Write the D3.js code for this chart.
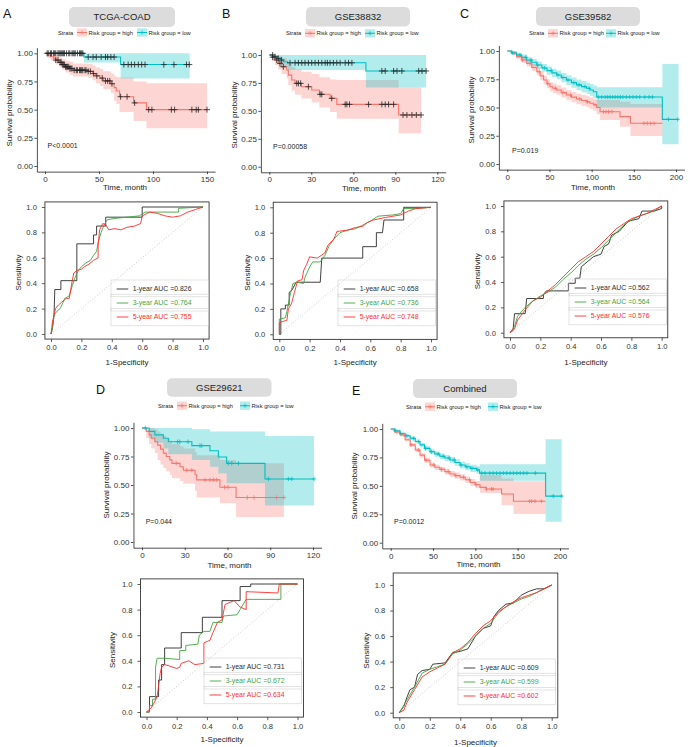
<!DOCTYPE html>
<html><head><meta charset="utf-8">
<script src="https://cdn.jsdelivr.net/npm/d3@7"></script>
<style>body{margin:0;background:#fff}svg{display:block}</style>
</head><body><svg id="c" width="690" height="747"></svg>
<script>
// ---------------- DATA ----------------
// KM rows: [time (months), survival, lower CI, upper CI]
const A_high = [[0,1,1,1],[2,0.985,0.96,1],[5,0.97,0.94,1],[8,0.955,0.92,0.99],[10,0.94,0.9,0.98],[13,0.92,0.88,0.965],[16,0.9,0.855,0.95],[19,0.88,0.83,0.935],[23,0.865,0.81,0.925],[26,0.85,0.795,0.91],[40,0.84,0.78,0.905],[44,0.82,0.76,0.89],[47,0.8,0.735,0.875],[51,0.78,0.71,0.86],[54,0.755,0.68,0.84],[61,0.73,0.65,0.82],[64,0.695,0.58,0.8],[66,0.665,0.55,0.79],[69,0.615,0.48,0.785],[82,0.56,0.4,0.75],[94,0.5,0.335,0.735],[150,0.5,0.335,0.735]];
const A_low = [[0,1,1,1],[36,0.967,0.918,1],[70,0.9,0.776,1],[134,0.9,0.776,1]];
const A_highCens = [10,12,14,15,16,17,18,19,20,21,22,23,24,25,27,29,30,32,33,34,35,37,38,40,42,45,48,53,56,58,60,62,70,76,83,96,99,117,120,136,140,142,150];
const A_lowCens = [2,3,5,6,8,9,10,12,13,14,15,16,17,18,20,22,23,25,26,27,28,30,32,33,34,35,40,44.5,47.5,52,56,58,61,64,73,77,80,83,86.4,89.5,92.6,110,119.4,131,133.6];

const B_high = [[0,1,1,1],[1.7,0.98,0.95,1],[4,0.955,0.91,1],[6.4,0.925,0.87,0.99],[8.8,0.895,0.83,0.97],[12.4,0.866,0.79,0.95],[13.6,0.82,0.73,0.92],[16,0.776,0.68,0.89],[18.4,0.746,0.645,0.87],[23,0.716,0.61,0.85],[30.3,0.687,0.575,0.83],[35.8,0.648,0.53,0.8],[43.4,0.612,0.49,0.78],[48.2,0.558,0.43,0.776],[92.4,0.463,0.3,0.71],[108.4,0.463,0.3,0.71]];
const B_low = [[0,1,1,1],[2.5,0.985,0.96,1],[6,0.97,0.93,1],[8,0.955,0.91,1],[10,0.94,0.89,1],[13,0.93,0.866,1],[69,0.857,0.71,1],[112,0.857,0.71,1]];
const B_highCens = [2.4,5.3,7.6,10,19.6,20.8,22.4,27.9,36.3,37.5,44.6,54.2,55.4,57.3,70.9,80.4,82.8,85.2,88.8,95.5,98.3,101.9,105,108.4];
const B_lowCens = [2.4,4,6.4,8.8,14.8,18.4,20.8,23.2,25.5,27.9,30.3,32.7,35.1,37.5,39.9,41.5,43.4,45.8,48.2,50.6,54.2,56.6,59,80.4,82.8,88.8,91.2,94.7,106.7,109.1,112];

const C_high = [[0,1,1,1],[5,0.98,0.965,0.995],[11,0.95,0.93,0.97],[17,0.92,0.895,0.945],[23,0.89,0.862,0.918],[29,0.855,0.824,0.886],[35,0.817,0.783,0.851],[39,0.78,0.744,0.816],[43,0.743,0.705,0.781],[47,0.71,0.67,0.75],[50.6,0.684,0.643,0.725],[54,0.67,0.628,0.712],[58.5,0.655,0.612,0.698],[64,0.632,0.588,0.676],[70,0.61,0.565,0.655],[76,0.592,0.546,0.638],[82,0.575,0.528,0.622],[88,0.562,0.514,0.61],[94,0.55,0.5,0.6],[98,0.537,0.486,0.588],[102,0.525,0.472,0.578],[106,0.5,0.44,0.567],[110,0.463,0.39,0.567],[133.6,0.419,0.33,0.55],[146,0.36,0.248,0.53],[184,0.36,0.248,0.53]];
const C_low = [[0,1,1,1],[5,0.985,0.97,1],[11,0.965,0.945,0.985],[17,0.945,0.92,0.97],[23,0.92,0.893,0.948],[29,0.9,0.87,0.93],[35,0.876,0.844,0.908],[41,0.85,0.816,0.885],[47,0.826,0.79,0.862],[53,0.806,0.768,0.844],[58.5,0.788,0.749,0.828],[64,0.765,0.724,0.806],[70,0.743,0.7,0.786],[76,0.72,0.675,0.765],[82,0.7,0.653,0.747],[88,0.685,0.636,0.734],[94,0.67,0.62,0.72],[98,0.655,0.603,0.707],[102,0.64,0.585,0.695],[106,0.593,0.5,0.68],[183.8,0.395,0.174,0.885],[203,0.395,0.174,0.885]];
const C_highCens = [8,18,27,38,48,57,66,75,86,95,104,114,117,120,124,162,166,170,174];
const C_lowCens = [6,15,22,28,36,44,52,60,66,72,79,85,92,97,108,112,116,119,122,125,128,131,134,137,141,145,149,153,157,163,168,172,191,202];

const D_high = [[0,1,1,1],[3,0.97,0.91,1],[5,0.94,0.86,1],[6.5,0.91,0.82,1],[9,0.88,0.78,0.99],[11,0.85,0.72,0.97],[13,0.815,0.68,0.95],[15,0.78,0.65,0.93],[17,0.75,0.62,0.91],[19.5,0.72,0.59,0.89],[21,0.69,0.56,0.86],[26.7,0.66,0.535,0.84],[29,0.63,0.51,0.82],[37.2,0.59,0.45,0.79],[38.4,0.545,0.39,0.76],[54.7,0.48,0.34,0.72],[66,0.39,0.22,0.69],[99.6,0.39,0.22,0.69]];
const D_low = [[0,1,1,1],[5,0.97,0.91,1],[9,0.94,0.87,1],[15,0.91,0.82,1],[18.5,0.88,0.77,1],[35,0.845,0.72,0.99],[47.7,0.8,0.66,0.97],[53.6,0.745,0.6,0.97],[59.4,0.69,0.515,0.97],[86.3,0.553,0.32,0.93],[120.7,0.553,0.32,0.93]];
const D_highCens = [24,31.4,34.9,44.2,47.7,50.1,52.4,58,60.4,73.9,78.6,94.5,99.6];
const D_lowCens = [2.3,25,26.5,32.3,40.7,41.9,60.6,63,67.7,88.7,102.7,105.1,120.7];

const E_high = [[0,1,1,1],[5,0.975,0.965,0.985],[11,0.947,0.934,0.96],[17,0.905,0.89,0.92],[23,0.86,0.843,0.877],[29,0.815,0.796,0.834],[34.6,0.77,0.75,0.79],[40,0.725,0.704,0.746],[46.5,0.683,0.661,0.705],[52,0.663,0.64,0.686],[58,0.645,0.621,0.669],[64,0.625,0.6,0.65],[70,0.604,0.578,0.63],[76,0.59,0.563,0.617],[82,0.575,0.547,0.603],[88,0.553,0.524,0.582],[94,0.53,0.5,0.56],[100,0.51,0.478,0.542],[105.5,0.487,0.44,0.595],[113,0.472,0.434,0.595],[131,0.428,0.33,0.565],[145,0.365,0.252,0.54],[183,0.365,0.252,0.54]];
const E_low = [[0,1,1,1],[5,0.985,0.975,0.995],[11,0.96,0.948,0.972],[17,0.94,0.926,0.954],[23,0.918,0.902,0.934],[29,0.89,0.872,0.908],[34.6,0.86,0.84,0.88],[40,0.83,0.808,0.852],[46.5,0.8,0.777,0.823],[52,0.78,0.756,0.804],[58,0.76,0.735,0.785],[64,0.745,0.718,0.772],[70,0.727,0.699,0.755],[76,0.705,0.676,0.734],[82,0.683,0.653,0.713],[88,0.668,0.637,0.699],[94,0.654,0.622,0.686],[101.6,0.64,0.607,0.673],[105,0.612,0.545,0.69],[183,0.41,0.185,0.91],[202,0.41,0.185,0.91]];
const E_highCens = [7,16,24,33,42,51,60,68,77,86,93,101,113,119,121,164,166.5,170.5,178];
const E_lowCens = [5,12,19,27,33,41,48,56,62,69,75,83,90,96,103,107.5,111.4,117,121,125,129,133,137,141,145,149,153,157,161,171,192,202];

// ROC curves: [1-specificity, sensitivity]
const A_roc1 = [[0,0],[0.01,0.05],[0.02,0.15],[0.025,0.35],[0.065,0.35],[0.065,0.42],[0.17,0.42],[0.17,0.71],[0.28,0.71],[0.28,0.78],[0.3,0.78],[0.3,0.85],[0.36,0.85],[0.36,0.92],[0.6,0.92],[0.6,1],[1,1]];
const A_roc3 = [[0,0],[0.01,0.05],[0.02,0.15],[0.04,0.18],[0.06,0.2],[0.08,0.25],[0.09,0.28],[0.12,0.3],[0.14,0.38],[0.16,0.45],[0.18,0.5],[0.2,0.53],[0.23,0.56],[0.26,0.58],[0.28,0.62],[0.3,0.65],[0.31,0.72],[0.33,0.8],[0.35,0.86],[0.37,0.9],[0.42,0.91],[0.5,0.92],[0.58,0.93],[0.62,0.96],[0.84,0.96],[0.84,0.99],[1,1]];
const A_roc5 = [[0,0],[0.005,0.05],[0.01,0.1],[0.02,0.15],[0.03,0.2],[0.05,0.23],[0.07,0.25],[0.1,0.28],[0.12,0.28],[0.13,0.35],[0.14,0.42],[0.15,0.48],[0.17,0.5],[0.2,0.51],[0.22,0.53],[0.25,0.55],[0.28,0.58],[0.31,0.6],[0.31,0.7],[0.32,0.82],[0.34,0.87],[0.36,0.86],[0.38,0.82],[0.42,0.83],[0.46,0.82],[0.5,0.84],[0.55,0.85],[0.59,0.87],[0.6,0.93],[0.65,0.96],[0.7,0.95],[0.75,0.93],[0.8,0.92],[0.85,0.93],[0.9,0.96],[0.95,0.98],[1,1]];
const B_roc1 = [[0,0],[0.01,0],[0.01,0.2],[0.04,0.2],[0.04,0.23],[0.065,0.23],[0.065,0.33],[0.085,0.35],[0.11,0.41],[0.27,0.41],[0.28,0.6],[0.55,0.6],[0.55,0.69],[0.64,0.69],[0.64,0.8],[0.68,0.8],[0.69,0.9],[0.82,0.9],[0.82,1],[1,1]];
const B_roc3 = [[0,0],[0,0.12],[0.04,0.13],[0.05,0.18],[0.07,0.3],[0.09,0.4],[0.12,0.41],[0.16,0.4],[0.17,0.45],[0.2,0.53],[0.22,0.57],[0.27,0.57],[0.3,0.62],[0.33,0.7],[0.36,0.75],[0.4,0.8],[0.45,0.82],[0.5,0.83],[0.55,0.86],[0.6,0.89],[0.65,0.93],[0.75,0.94],[0.8,0.95],[0.82,0.99],[0.9,0.99],[1,1]];
const B_roc5 = [[0,0],[0,0.09],[0.02,0.1],[0.05,0.11],[0.06,0.2],[0.08,0.24],[0.1,0.33],[0.12,0.42],[0.15,0.43],[0.16,0.5],[0.18,0.55],[0.2,0.61],[0.25,0.6],[0.3,0.64],[0.32,0.7],[0.36,0.75],[0.38,0.81],[0.45,0.82],[0.5,0.84],[0.55,0.85],[0.58,0.88],[0.62,0.9],[0.7,0.92],[0.8,0.94],[0.85,0.97],[0.9,0.99],[1,1]];
const C_roc1 = [[0,0],[0.02,0.02],[0.03,0.15],[0.1,0.15],[0.11,0.27],[0.22,0.27],[0.22,0.3],[0.24,0.33],[0.385,0.33],[0.385,0.39],[0.43,0.39],[0.43,0.43],[0.46,0.43],[0.47,0.52],[0.52,0.57],[0.55,0.6],[0.6,0.62],[0.62,0.68],[0.65,0.7],[0.67,0.77],[0.72,0.8],[0.78,0.88],[0.85,0.9],[0.87,0.96],[0.95,0.96],[1,0.98],[1,1]];
const C_roc3 = [[0,0],[0.03,0.05],[0.05,0.13],[0.1,0.2],[0.15,0.25],[0.2,0.29],[0.25,0.32],[0.3,0.36],[0.35,0.42],[0.4,0.47],[0.45,0.53],[0.5,0.58],[0.55,0.62],[0.6,0.67],[0.65,0.73],[0.7,0.79],[0.75,0.85],[0.8,0.89],[0.85,0.92],[0.9,0.94],[0.95,0.96],[1,1]];
const C_roc5 = [[0,0],[0.03,0.03],[0.05,0.1],[0.1,0.18],[0.15,0.25],[0.2,0.28],[0.25,0.33],[0.3,0.38],[0.35,0.44],[0.4,0.5],[0.45,0.56],[0.5,0.6],[0.55,0.64],[0.6,0.7],[0.65,0.76],[0.7,0.82],[0.75,0.86],[0.8,0.9],[0.85,0.92],[0.9,0.94],[0.95,0.97],[1,1]];
const D_roc1 = [[0,0],[0.02,0],[0.02,0.12],[0.08,0.12],[0.08,0.25],[0.1,0.25],[0.1,0.37],[0.12,0.37],[0.12,0.5],[0.23,0.5],[0.23,0.62],[0.37,0.62],[0.37,0.74],[0.5,0.74],[0.5,0.87],[0.62,0.87],[0.62,0.98],[0.69,0.98],[0.69,1],[1,1]];
const D_roc3 = [[0,0],[0.02,0],[0.02,0.05],[0.04,0.05],[0.04,0.1],[0.06,0.1],[0.06,0.35],[0.07,0.42],[0.12,0.42],[0.22,0.41],[0.22,0.48],[0.26,0.48],[0.26,0.52],[0.34,0.53],[0.35,0.6],[0.38,0.63],[0.42,0.63],[0.44,0.7],[0.5,0.7],[0.51,0.75],[0.6,0.76],[0.62,0.8],[0.66,0.88],[0.89,0.88],[0.89,1],[1,1]];
const D_roc5 = [[0,0],[0.03,0.03],[0.05,0.07],[0.07,0.12],[0.08,0.2],[0.09,0.3],[0.1,0.35],[0.12,0.37],[0.15,0.36],[0.2,0.34],[0.22,0.35],[0.23,0.38],[0.28,0.4],[0.32,0.37],[0.38,0.38],[0.38,0.54],[0.42,0.56],[0.44,0.62],[0.47,0.7],[0.5,0.72],[0.52,0.84],[0.58,0.87],[0.62,0.82],[0.66,0.8],[0.66,0.94],[0.87,0.93],[0.88,1],[1,1]];
const E_roc1 = [[0,0],[0.03,0.05],[0.05,0.12],[0.07,0.18],[0.1,0.2],[0.12,0.3],[0.15,0.33],[0.2,0.34],[0.22,0.38],[0.3,0.39],[0.35,0.47],[0.4,0.48],[0.45,0.5],[0.5,0.6],[0.55,0.66],[0.6,0.68],[0.62,0.75],[0.65,0.8],[0.7,0.85],[0.75,0.86],[0.8,0.92],[0.85,0.95],[0.9,0.97],[0.95,0.97],[1,1]];
const E_roc3 = [[0,0],[0.05,0.1],[0.1,0.2],[0.15,0.31],[0.2,0.34],[0.25,0.36],[0.3,0.38],[0.35,0.46],[0.4,0.49],[0.45,0.54],[0.5,0.6],[0.55,0.66],[0.6,0.7],[0.65,0.78],[0.7,0.83],[0.75,0.86],[0.8,0.89],[0.85,0.91],[0.9,0.94],[0.95,0.97],[1,1]];
const E_roc5 = [[0,0],[0.03,0.02],[0.05,0.08],[0.1,0.18],[0.15,0.28],[0.2,0.32],[0.25,0.35],[0.3,0.38],[0.35,0.47],[0.4,0.5],[0.45,0.55],[0.5,0.62],[0.55,0.68],[0.6,0.72],[0.65,0.79],[0.7,0.83],[0.75,0.87],[0.8,0.9],[0.85,0.92],[0.9,0.94],[0.95,0.97],[1,1]];

const rocYears = ["1-year","3-year","5-year"];
const A_auc = ["0.826","0.764","0.755"];
const B_auc = ["0.658","0.736","0.748"];
const C_auc = ["0.562","0.564","0.576"];
const D_auc = ["0.731","0.672","0.634"];
const E_auc = ["0.609","0.599","0.602"];
const kmYTicks = [0,0.25,0.5,0.75,1];
const rocTicks = [0,0.2,0.4,0.6,0.8,1];
const strataLabels = ["Risk group = high","Risk group = low"];

// ---------------- DRAW ----------------
const FONT = '"Liberation Sans", Arial, Helvetica, sans-serif';
const RED = "#F8766D", CYAN = "#00BFC4";
const ROC_COL = ["#2b2b2b","#3fa63f","#ff2b2b"];
const svg = d3.select("#c").attr("font-family", FONT);

function txt(g, s, x, y, size, opt={}) {
  const t = g.append("text").attr("x", x).attr("y", y).attr("font-size", size)
    .attr("fill", opt.fill || "#222").attr("text-anchor", opt.anchor || "start").text(s);
  if (opt.rot) t.attr("transform", `rotate(-90,${x},${y})`);
  return t;
}

function drawKM(o) {
  const g = svg.append("g");
  const x = d3.scaleLinear().domain([0, o.tMax]).range(o.xr);
  const y = d3.scaleLinear().domain([0, 1]).range(o.yr);
  const lo = -0.05 * o.tMax, hi = 1.05 * o.tMax;
  const xa = d3.scaleLinear().domain([lo, hi]).range([x(lo), x(hi)]);
  const ya = d3.scaleLinear().domain([-0.05, 1.05]).range([y(-0.05), y(1.05)]);
  const area = d3.area().curve(d3.curveStepAfter).x(d => x(d[0])).y0(d => y(d[2])).y1(d => y(d[3]));
  const line = d3.line().curve(d3.curveStepAfter).x(d => x(d[0])).y(d => y(d[1]));
  const groups = [[o.high, o.highCens, RED], [o.low, o.lowCens, CYAN]];
  groups.forEach(([d, , c]) => g.append("path").attr("d", area(d)).attr("fill", c).attr("fill-opacity", 0.3));
  groups.forEach(([d, , c]) => g.append("path").attr("d", line(d)).attr("fill", "none").attr("stroke", c).attr("stroke-width", 1.1));
  const bis = d3.bisector(d => d[0]).right;
  const sAt = (rows, t) => rows[Math.max(0, bis(rows, t) - 1)][1];
  groups.forEach(([rows, cs, c]) => {
    const p = d3.path(), h = o.cs;
    cs.forEach(t => {
      const px = x(t), py = y(sAt(rows, t));
      p.moveTo(px - h, py); p.lineTo(px + h, py); p.moveTo(px, py - h); p.lineTo(px, py + h);
    });
    g.append("path").attr("d", p.toString()).attr("fill", "none")
      .attr("stroke", o.censBlack ? "#222" : c).attr("stroke-width", 0.8);
  });
  const gx = g.append("g").attr("transform", `translate(0,${ya.range()[0]})`)
    .call(d3.axisBottom(xa).tickValues(o.xticks).tickSize(2.5).tickSizeOuter(0).tickPadding(2));
  const gy = g.append("g").attr("transform", `translate(${xa.range()[0]},0)`)
    .call(d3.axisLeft(ya).tickValues(kmYTicks).tickFormat(d3.format(".2f")).tickSize(2.5).tickSizeOuter(0).tickPadding(1.5));
  [gx, gy].forEach(a => {
    a.selectAll("text").attr("font-size", 8).attr("fill", "#333").attr("font-family", FONT);
    a.selectAll("line,path").attr("stroke", "#222").attr("stroke-width", 0.8);
  });
  // title strip
  const [bx, by, bw, bh] = o.tbox;
  g.append("rect").attr("x", bx).attr("y", by).attr("width", bw).attr("height", bh).attr("rx", 5).attr("fill", "#dcdcdc");
  txt(g, o.title, bx + bw / 2, by + bh / 2 + 3.4, 9.5, {anchor: "middle"});
  txt(g, o.letter, o.lx, o.ly, 12.5, {fill: "#111"});
  // legend
  const ly = o.legY;
  txt(g, "Strata", o.key[0] - 19, ly + 2, 5.7);
  [[RED, o.key[0], strataLabels[0]], [CYAN, o.key[1], strataLabels[1]]].forEach(([c, kx, lab]) => {
    g.append("rect").attr("x", kx).attr("y", ly - 4.2).attr("width", 10).attr("height", 8.4).attr("fill", c).attr("fill-opacity", 0.3);
    g.append("line").attr("x1", kx).attr("x2", kx + 10).attr("y1", ly).attr("y2", ly).attr("stroke", c).attr("stroke-width", 1);
    g.append("path").attr("d", `M${kx + 3},${ly}H${kx + 7}M${kx + 5},${ly - 2}V${ly + 2}`).attr("stroke", c).attr("stroke-width", 0.8);
    txt(g, lab, kx + 11.5, ly + 2, 5.7);
  });
  txt(g, o.pval[0], o.pval[1], o.pval[2], 7);
  txt(g, "Survival probability", o.ylab[0], o.ylab[1], 8, {anchor: "middle", rot: true});
  txt(g, "Time, month", o.xlab[0], o.xlab[1], 8, {anchor: "middle"});
}

function drawROC(o) {
  const g = svg.append("g");
  const x = d3.scaleLinear().domain([0, 1]).range(o.xr);
  const y = d3.scaleLinear().domain([0, 1]).range(o.yr);
  const top = o.boxTop !== undefined ? o.boxTop : y(1.04);
  g.append("line").attr("x1", x(0)).attr("y1", y(0)).attr("x2", x(1)).attr("y2", y(1))
    .attr("stroke", "#bdbdbd").attr("stroke-width", 0.8).attr("stroke-dasharray", "1,2");
  const line = d3.line().x(d => x(d[0])).y(d => y(d[1]));
  o.curves.forEach((c, i) => g.append("path").attr("d", line(c)).attr("fill", "none")
    .attr("stroke", ROC_COL[i]).attr("stroke-width", 0.9));
  g.append("rect").attr("x", x(-0.04)).attr("y", top).attr("width", x(1.04) - x(-0.04))
    .attr("height", y(-0.04) - top).attr("fill", "none").attr("stroke", "#333").attr("stroke-width", 0.9);
  const gx = g.append("g").attr("transform", `translate(0,${y(-0.04)})`)
    .call(d3.axisBottom(x).tickValues(rocTicks).tickFormat(d3.format(".1f")).tickSize(3).tickSizeOuter(0).tickPadding(3));
  const gy = g.append("g").attr("transform", `translate(${x(-0.04)},0)`)
    .call(d3.axisLeft(y).tickValues(rocTicks).tickFormat(d3.format(".1f")).tickSize(3).tickSizeOuter(0).tickPadding(5));
  [gx, gy].forEach(a => {
    a.select(".domain").remove();
    a.selectAll("text").attr("font-size", 7.6).attr("fill", "#333").attr("font-family", FONT);
    a.selectAll("line").attr("stroke", "#333").attr("stroke-width", 0.8);
  });
  txt(g, "Sensitivity", o.ylabX, (o.yr[0] + o.yr[1]) / 2 + 2, 8, {anchor: "middle", rot: true});
  txt(g, "1-Specificity", (o.xr[0] + o.xr[1]) / 2, o.xlabY, 8, {anchor: "middle"});
  // legend (three stacked boxes)
  const [lx, ly] = o.leg;
  for (let i = 0; i < 3; i++) {
    g.append("rect").attr("x", lx).attr("y", ly + i * 14.2).attr("width", 97.5).attr("height", i === 2 ? 17.4 : 16.8)
      .attr("fill", "none").attr("stroke", "#cfcfcf").attr("stroke-width", 0.6);
  }
  for (let i = 0; i < 3; i++) {
    const cy = ly + 9 + i * 14;
    g.append("line").attr("x1", lx + 5.7).attr("x2", lx + 17.3).attr("y1", cy).attr("y2", cy)
      .attr("stroke", ROC_COL[i]).attr("stroke-width", 0.9);
    txt(g, `${rocYears[i]} AUC =${o.auc[i]}`, lx + 21.7, cy + 2.4, 6.9, {fill: ROC_COL[i]});
  }
}

// Panel A
drawKM({tMax:150, xr:[45,207], yr:[166,53.3], xticks:[0,50,100,150], high:A_high, low:A_low,
  highCens:A_highCens, lowCens:A_lowCens, cs:3, censBlack:true, title:"TCGA-COAD", tbox:[69,7,106,20],
  letter:"A", lx:3, ly:18, legY:32.5, key:[77,137], pval:["P<0.0001",47.5,148], ylab:[12,113], xlab:[125,190]});
drawROC({xr:[51,203], yr:[334,207], curves:[A_roc1,A_roc3,A_roc5], auc:A_auc, leg:[111,280], ylabX:21, xlabY:365});
// Panel B
drawKM({tMax:120, xr:[269.3,437.3], yr:[166.7,55], xticks:[0,30,60,90,120], high:B_high, low:B_low,
  highCens:B_highCens, lowCens:B_lowCens, cs:3, censBlack:true, title:"GSE38832", tbox:[306,7,104,19.5],
  letter:"B", lx:222, ly:18, legY:33.3, key:[305,365], pval:["P=0.00058",273,149], ylab:[237,115], xlab:[364,191]});
drawROC({xr:[279.3,431], yr:[334.3,207.3], curves:[B_roc1,B_roc3,B_roc5], auc:B_auc, leg:[338,280], ylabX:250, xlabY:365});
// Panel C
drawKM({tMax:200, xr:[507.3,676], yr:[164,51], xticks:[0,50,100,150,200], high:C_high, low:C_low,
  highCens:C_highCens, lowCens:C_lowCens, cs:2, censBlack:false, title:"GSE39582", tbox:[536,7,104,19],
  letter:"C", lx:460, ly:18, legY:33.3, key:[548,606], pval:["P=0.019",512,153], ylab:[474,110], xlab:[593,189.5]});
drawROC({xr:[510,661.7], yr:[332.7,206], curves:[C_roc1,C_roc3,C_roc5], auc:C_auc, leg:[569,279], ylabX:480, xlabY:365});
// Panel D
drawKM({tMax:120, xr:[142,313], yr:[542,428], xticks:[0,30,60,90,120], high:D_high, low:D_low,
  highCens:D_highCens, lowCens:D_lowCens, cs:2.2, censBlack:false, title:"GSE29621", tbox:[167,378.3,104.5,18.5],
  letter:"D", lx:96, ly:394, legY:405.7, key:[177,240], pval:["P=0.044",145.7,523.5], ylab:[109,485], xlab:[229.5,568]});
drawROC({xr:[146.5,297.5], yr:[712,584], curves:[D_roc1,D_roc3,D_roc5], auc:D_auc, leg:[204,658], ylabX:115, xlabY:742});
// Panel E
drawKM({tMax:200, xr:[390.7,560], yr:[542.7,429], xticks:[0,50,100,150,200], high:E_high, low:E_low,
  highCens:E_highCens, lowCens:E_lowCens, cs:2, censBlack:false, title:"Combined", tbox:[413,379,104,19],
  letter:"E", lx:352, ly:395, legY:406.7, key:[425,488], pval:["P=0.0012",394,523.5], ylab:[357,486], xlab:[478.5,567]});
drawROC({xr:[399.3,551.7], yr:[712.7,585], boxTop:573, curves:[E_roc1,E_roc3,E_roc5], auc:E_auc, leg:[458,659], ylabX:369, xlabY:745});
</script>
</body></html>
